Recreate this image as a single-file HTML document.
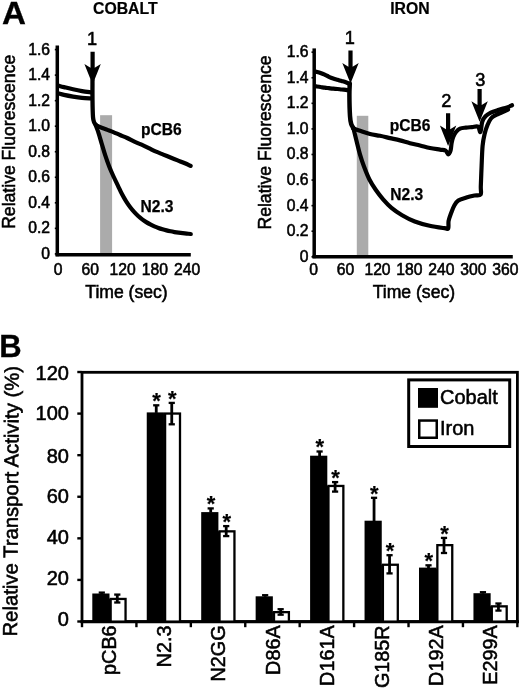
<!DOCTYPE html>
<html><head><meta charset="utf-8"><style>
html,body{margin:0;padding:0;background:#fff;}
svg{display:block;font-family:"Liberation Sans", sans-serif;will-change:transform;}
</style></head><body>
<svg width="520" height="689" viewBox="0 0 520 689" font-family='"Liberation Sans", sans-serif' fill="#000">
<rect width="520" height="689" fill="#fff"/>
<text x="0.00" y="0.00" font-size="31" text-anchor="start" font-weight="bold" stroke="#000" stroke-width="0.3" transform="translate(1.90,24.00) scale(1.07,1)">A</text>
<text x="93.00" y="13.70" font-size="15.8" text-anchor="start" font-weight="bold" stroke="#000" stroke-width="0.2">COBALT</text>
<text x="0.00" y="0.00" font-size="17.6" text-anchor="middle" stroke="#000" stroke-width="0.55" transform="translate(14.70,141.80) rotate(-90)">Relative Fluorescence</text>
<text x="50.10" y="259.00" font-size="15.7" text-anchor="end" stroke="#000" stroke-width="0.55">0</text>
<line x1="54.80" y1="253.90" x2="57.30" y2="253.90" stroke="#000" stroke-width="1.6"/>
<text x="50.10" y="233.46" font-size="15.7" text-anchor="end" stroke="#000" stroke-width="0.55">0.2</text>
<line x1="54.80" y1="228.36" x2="57.30" y2="228.36" stroke="#000" stroke-width="1.6"/>
<text x="50.10" y="207.92" font-size="15.7" text-anchor="end" stroke="#000" stroke-width="0.55">0.4</text>
<line x1="54.80" y1="202.82" x2="57.30" y2="202.82" stroke="#000" stroke-width="1.6"/>
<text x="50.10" y="182.38" font-size="15.7" text-anchor="end" stroke="#000" stroke-width="0.55">0.6</text>
<line x1="54.80" y1="177.28" x2="57.30" y2="177.28" stroke="#000" stroke-width="1.6"/>
<text x="50.10" y="156.84" font-size="15.7" text-anchor="end" stroke="#000" stroke-width="0.55">0.8</text>
<line x1="54.80" y1="151.74" x2="57.30" y2="151.74" stroke="#000" stroke-width="1.6"/>
<text x="50.10" y="131.30" font-size="15.7" text-anchor="end" stroke="#000" stroke-width="0.55">1.0</text>
<line x1="54.80" y1="126.20" x2="57.30" y2="126.20" stroke="#000" stroke-width="1.6"/>
<text x="50.10" y="105.76" font-size="15.7" text-anchor="end" stroke="#000" stroke-width="0.55">1.2</text>
<line x1="54.80" y1="100.66" x2="57.30" y2="100.66" stroke="#000" stroke-width="1.6"/>
<text x="50.10" y="80.22" font-size="15.7" text-anchor="end" stroke="#000" stroke-width="0.55">1.4</text>
<line x1="54.80" y1="75.12" x2="57.30" y2="75.12" stroke="#000" stroke-width="1.6"/>
<text x="50.10" y="54.68" font-size="15.7" text-anchor="end" stroke="#000" stroke-width="0.55">1.6</text>
<line x1="54.80" y1="49.58" x2="57.30" y2="49.58" stroke="#000" stroke-width="1.6"/>
<rect x="100.10" y="115.20" width="12.00" height="139.30" fill="#ababab"/>
<line x1="57.30" y1="45.60" x2="57.30" y2="256.20" stroke="#000" stroke-width="3.5"/>
<line x1="55.60" y1="254.70" x2="190.80" y2="254.70" stroke="#000" stroke-width="3.4"/>
<text x="58.00" y="274.90" font-size="15.7" text-anchor="middle" stroke="#000" stroke-width="0.55">0</text>
<text x="90.30" y="274.90" font-size="15.7" text-anchor="middle" stroke="#000" stroke-width="0.55">60</text>
<text x="122.60" y="274.90" font-size="15.7" text-anchor="middle" stroke="#000" stroke-width="0.55">120</text>
<text x="154.90" y="274.90" font-size="15.7" text-anchor="middle" stroke="#000" stroke-width="0.55">180</text>
<text x="187.20" y="274.90" font-size="15.7" text-anchor="middle" stroke="#000" stroke-width="0.55">240</text>
<text x="126.50" y="298.00" font-size="17.6" text-anchor="middle" stroke="#000" stroke-width="0.55">Time (sec)</text>
<path d="M59.00 85.80 C59.83 86.02 61.67 86.52 64.00 87.10 C66.33 87.68 70.00 88.63 73.00 89.30 C76.00 89.97 78.92 90.58 82.00 91.10 C85.08 91.62 89.92 92.18 91.50 92.40" fill="none" stroke="#000" stroke-width="4.2" stroke-linejoin="round" stroke-linecap="round"/>
<path d="M59.00 93.60 C59.83 93.82 61.67 94.40 64.00 94.90 C66.33 95.40 70.00 96.10 73.00 96.60 C76.00 97.10 78.92 97.58 82.00 97.90 C85.08 98.22 89.92 98.40 91.50 98.50" fill="none" stroke="#000" stroke-width="4.2" stroke-linejoin="round" stroke-linecap="round"/>
<path d="M92.50 80.00 C92.50 83.33 92.42 93.83 92.50 100.00 C92.58 106.17 92.72 113.25 93.00 117.00 C93.28 120.75 93.62 121.08 94.20 122.50 C94.78 123.92 96.12 125.00 96.50 125.50" fill="none" stroke="#000" stroke-width="4.3" stroke-linejoin="round" stroke-linecap="round"/>
<path d="M96.00 125.30 C96.93 125.72 99.70 127.03 101.60 127.80 C103.50 128.57 105.45 129.18 107.40 129.90 C109.35 130.62 111.20 131.25 113.30 132.10 C115.40 132.95 117.68 134.02 120.00 135.00 C122.32 135.98 124.80 136.90 127.20 138.00 C129.60 139.10 132.00 140.48 134.40 141.60 C136.80 142.72 139.20 143.62 141.60 144.70 C144.00 145.78 146.38 146.93 148.80 148.10 C151.22 149.27 153.68 150.62 156.10 151.70 C158.52 152.78 160.90 153.63 163.30 154.60 C165.70 155.57 168.10 156.53 170.50 157.50 C172.90 158.47 175.30 159.43 177.70 160.40 C180.10 161.37 182.73 162.38 184.90 163.30 C187.07 164.22 189.73 165.47 190.70 165.90" fill="none" stroke="#000" stroke-width="4.2" stroke-linejoin="round" stroke-linecap="round"/>
<path d="M95.50 124.80 C95.93 125.93 97.08 128.52 98.10 131.60 C99.12 134.68 100.43 139.42 101.60 143.30 C102.77 147.18 103.83 151.03 105.10 154.90 C106.37 158.77 107.83 162.98 109.20 166.50 C110.57 170.02 111.85 172.83 113.30 176.00 C114.75 179.17 116.46 182.53 117.90 185.54 C119.34 188.55 120.60 191.47 121.95 194.08 C123.30 196.68 124.65 199.00 126.00 201.16 C127.35 203.32 128.70 205.25 130.05 207.04 C131.40 208.84 132.75 210.44 134.10 211.93 C135.45 213.41 136.80 214.74 138.15 215.98 C139.50 217.21 140.85 218.31 142.20 219.34 C143.55 220.36 144.90 221.28 146.25 222.13 C147.60 222.98 148.95 223.74 150.30 224.45 C151.65 225.15 153.00 225.78 154.35 226.37 C155.70 226.95 157.05 227.48 158.40 227.96 C159.75 228.45 161.10 228.88 162.45 229.29 C163.80 229.69 165.15 230.05 166.50 230.39 C167.85 230.72 169.20 231.02 170.55 231.30 C171.90 231.58 173.25 231.82 174.60 232.06 C175.95 232.29 177.30 232.49 178.65 232.68 C180.00 232.88 181.35 233.05 182.70 233.20 C184.05 233.36 185.40 233.51 186.75 233.64 C188.10 233.77 190.12 233.94 190.80 234.00" fill="none" stroke="#000" stroke-width="4.2" stroke-linejoin="round" stroke-linecap="round"/>
<text x="141.00" y="134.60" font-size="15.6" text-anchor="start" font-weight="bold" stroke="#000" stroke-width="0.25">pCB6</text>
<text x="140.60" y="212.00" font-size="15.6" text-anchor="start" font-weight="bold" stroke="#000" stroke-width="0.25">N2.3</text>
<path d="M90.50 51.70 L94.70 51.70 L94.70 67.80 L100.80 64.00 L92.60 84.60 L84.40 64.00 L90.50 67.80 Z" fill="#000"/>
<text x="92.00" y="45.00" font-size="18.2" text-anchor="middle" stroke="#000" stroke-width="0.55">1</text>
<text x="390.20" y="13.60" font-size="15.8" text-anchor="start" font-weight="bold" stroke="#000" stroke-width="0.2">IRON</text>
<text x="0.00" y="0.00" font-size="17.6" text-anchor="middle" stroke="#000" stroke-width="0.55" transform="translate(271.30,142.50) rotate(-90)">Relative Fluorescence</text>
<text x="308.60" y="261.80" font-size="15.7" text-anchor="end" stroke="#000" stroke-width="0.55">0</text>
<line x1="311.50" y1="256.80" x2="314.00" y2="256.80" stroke="#000" stroke-width="1.6"/>
<text x="308.60" y="236.22" font-size="15.7" text-anchor="end" stroke="#000" stroke-width="0.55">0.2</text>
<line x1="311.50" y1="231.22" x2="314.00" y2="231.22" stroke="#000" stroke-width="1.6"/>
<text x="308.60" y="210.64" font-size="15.7" text-anchor="end" stroke="#000" stroke-width="0.55">0.4</text>
<line x1="311.50" y1="205.64" x2="314.00" y2="205.64" stroke="#000" stroke-width="1.6"/>
<text x="308.60" y="185.06" font-size="15.7" text-anchor="end" stroke="#000" stroke-width="0.55">0.6</text>
<line x1="311.50" y1="180.06" x2="314.00" y2="180.06" stroke="#000" stroke-width="1.6"/>
<text x="308.60" y="159.48" font-size="15.7" text-anchor="end" stroke="#000" stroke-width="0.55">0.8</text>
<line x1="311.50" y1="154.48" x2="314.00" y2="154.48" stroke="#000" stroke-width="1.6"/>
<text x="308.60" y="133.90" font-size="15.7" text-anchor="end" stroke="#000" stroke-width="0.55">1.0</text>
<line x1="311.50" y1="128.90" x2="314.00" y2="128.90" stroke="#000" stroke-width="1.6"/>
<text x="308.60" y="108.32" font-size="15.7" text-anchor="end" stroke="#000" stroke-width="0.55">1.2</text>
<line x1="311.50" y1="103.32" x2="314.00" y2="103.32" stroke="#000" stroke-width="1.6"/>
<text x="308.60" y="82.74" font-size="15.7" text-anchor="end" stroke="#000" stroke-width="0.55">1.4</text>
<line x1="311.50" y1="77.74" x2="314.00" y2="77.74" stroke="#000" stroke-width="1.6"/>
<text x="308.60" y="57.16" font-size="15.7" text-anchor="end" stroke="#000" stroke-width="0.55">1.6</text>
<line x1="311.50" y1="52.16" x2="314.00" y2="52.16" stroke="#000" stroke-width="1.6"/>
<rect x="356.80" y="115.80" width="11.50" height="140.80" fill="#ababab"/>
<line x1="314.20" y1="48.40" x2="314.20" y2="258.20" stroke="#000" stroke-width="3.5"/>
<line x1="312.50" y1="256.70" x2="512.80" y2="256.70" stroke="#000" stroke-width="3.4"/>
<text x="313.60" y="275.00" font-size="15.7" text-anchor="middle" stroke="#000" stroke-width="0.55">0</text>
<text x="345.55" y="275.00" font-size="15.7" text-anchor="middle" stroke="#000" stroke-width="0.55">60</text>
<text x="377.50" y="275.00" font-size="15.7" text-anchor="middle" stroke="#000" stroke-width="0.55">120</text>
<text x="409.45" y="275.00" font-size="15.7" text-anchor="middle" stroke="#000" stroke-width="0.55">180</text>
<text x="441.40" y="275.00" font-size="15.7" text-anchor="middle" stroke="#000" stroke-width="0.55">240</text>
<text x="473.35" y="275.00" font-size="15.7" text-anchor="middle" stroke="#000" stroke-width="0.55">300</text>
<text x="505.30" y="275.00" font-size="15.7" text-anchor="middle" stroke="#000" stroke-width="0.55">360</text>
<text x="413.90" y="298.00" font-size="17.6" text-anchor="middle" stroke="#000" stroke-width="0.55">Time (sec)</text>
<path d="M316.20 71.70 C316.92 71.92 319.08 72.50 320.50 73.00 C321.92 73.50 323.30 74.07 324.70 74.70 C326.10 75.33 327.48 76.17 328.90 76.80 C330.32 77.43 331.78 78.00 333.20 78.50 C334.62 79.00 336.00 79.38 337.40 79.80 C338.80 80.22 340.20 80.58 341.60 81.00 C343.00 81.42 344.48 81.80 345.80 82.30 C347.12 82.80 348.88 83.72 349.50 84.00" fill="none" stroke="#000" stroke-width="4.2" stroke-linejoin="round" stroke-linecap="round"/>
<path d="M316.20 86.40 C316.92 86.50 319.08 86.78 320.50 87.00 C321.92 87.22 323.30 87.50 324.70 87.70 C326.10 87.90 327.48 88.03 328.90 88.20 C330.32 88.37 331.78 88.57 333.20 88.70 C334.62 88.83 336.00 88.87 337.40 89.00 C338.80 89.13 340.20 89.35 341.60 89.50 C343.00 89.65 344.63 89.77 345.80 89.90 C346.97 90.03 348.13 90.23 348.60 90.30" fill="none" stroke="#000" stroke-width="4.2" stroke-linejoin="round" stroke-linecap="round"/>
<path d="M349.80 83.50 C349.73 85.42 349.37 89.58 349.40 95.00 C349.43 100.42 349.70 111.17 350.00 116.00 C350.30 120.83 350.53 121.87 351.20 124.00 C351.87 126.13 353.53 128.00 354.00 128.80" fill="none" stroke="#000" stroke-width="4.5" stroke-linejoin="round" stroke-linecap="round"/>
<path d="M353.00 128.30 C354.17 128.72 357.17 129.85 360.00 130.80 C362.83 131.75 366.67 133.17 370.00 134.00 C373.33 134.83 376.67 135.12 380.00 135.80 C383.33 136.48 386.67 137.33 390.00 138.10 C393.33 138.87 396.67 139.55 400.00 140.40 C403.33 141.25 406.67 142.35 410.00 143.20 C413.33 144.05 416.67 144.70 420.00 145.50 C423.33 146.30 426.67 147.32 430.00 148.00 C433.33 148.68 437.42 149.18 440.00 149.60 C442.58 150.02 444.12 149.72 445.50 150.50 C446.88 151.28 447.45 154.30 448.30 154.30 C449.15 154.30 450.05 152.38 450.60 150.50 C451.15 148.62 451.17 145.25 451.60 143.00 C452.03 140.75 452.47 138.83 453.20 137.00 C453.93 135.17 454.87 133.38 456.00 132.00 C457.13 130.62 458.33 129.43 460.00 128.70 C461.67 127.97 464.00 127.87 466.00 127.60 C468.00 127.33 470.00 127.27 472.00 127.10 C474.00 126.93 476.60 125.78 478.00 126.60 C479.40 127.42 479.68 132.85 480.40 132.00 C481.12 131.15 481.45 124.12 482.30 121.50 C483.15 118.88 484.08 117.78 485.50 116.30 C486.92 114.82 488.57 113.68 490.80 112.60 C493.03 111.52 496.20 110.67 498.90 109.80 C501.60 108.93 504.82 108.15 507.00 107.40 C509.18 106.65 511.17 105.65 512.00 105.30" fill="none" stroke="#000" stroke-width="4.2" stroke-linejoin="round" stroke-linecap="round"/>
<path d="M353.50 128.50 C354.02 130.62 355.55 136.98 356.60 141.20 C357.65 145.42 358.57 149.58 359.80 153.80 C361.03 158.02 362.42 162.27 364.00 166.50 C365.58 170.73 367.35 175.32 369.30 179.20 C371.25 183.08 373.40 186.45 375.70 189.80 C378.00 193.15 380.47 196.30 383.10 199.30 C385.73 202.30 388.33 205.15 391.50 207.80 C394.67 210.45 398.22 212.92 402.10 215.20 C405.98 217.48 410.22 219.73 414.80 221.50 C419.38 223.27 424.67 224.68 429.60 225.80 C434.53 226.92 441.30 227.77 444.40 228.20 C447.50 228.63 447.50 229.62 448.20 228.40 C448.90 227.18 448.10 223.50 448.60 220.90 C449.10 218.30 450.27 215.33 451.20 212.80 C452.13 210.27 453.02 207.73 454.20 205.70 C455.38 203.67 456.27 201.97 458.30 200.60 C460.33 199.23 463.70 198.35 466.40 197.50 C469.10 196.65 472.13 196.00 474.50 195.50 C476.87 195.00 479.55 196.02 480.60 194.50 C481.65 192.98 480.63 191.15 480.80 186.40 C480.97 181.65 481.30 172.77 481.60 166.00 C481.90 159.23 482.10 151.13 482.60 145.80 C483.10 140.47 483.78 137.47 484.60 134.00 C485.42 130.53 486.43 127.58 487.50 125.00 C488.57 122.42 489.58 120.17 491.00 118.50 C492.42 116.83 494.17 116.03 496.00 115.00 C497.83 113.97 500.00 113.22 502.00 112.30 C504.00 111.38 507.00 109.97 508.00 109.50" fill="none" stroke="#000" stroke-width="4.2" stroke-linejoin="round" stroke-linecap="round"/>
<text x="389.70" y="130.80" font-size="15.6" text-anchor="start" font-weight="bold" stroke="#000" stroke-width="0.25">pCB6</text>
<text x="390.30" y="200.10" font-size="15.6" text-anchor="start" font-weight="bold" stroke="#000" stroke-width="0.25">N2.3</text>
<path d="M348.40 50.60 L352.60 50.60 L352.60 66.70 L358.70 62.90 L350.50 83.50 L342.30 62.90 L348.40 66.70 Z" fill="#000"/>
<text x="349.80" y="44.20" font-size="18.2" text-anchor="middle" stroke="#000" stroke-width="0.55">1</text>
<path d="M446.00 113.20 L450.20 113.20 L450.20 129.30 L456.30 125.50 L448.10 146.10 L439.90 125.50 L446.00 129.30 Z" fill="#000"/>
<text x="446.20" y="107.00" font-size="18.2" text-anchor="middle" stroke="#000" stroke-width="0.55">2</text>
<path d="M477.50 88.90 L481.70 88.90 L481.70 105.00 L487.80 101.20 L479.60 121.80 L471.40 101.20 L477.50 105.00 Z" fill="#000"/>
<text x="480.20" y="86.10" font-size="18.2" text-anchor="middle" stroke="#000" stroke-width="0.55">3</text>
<text x="-0.70" y="356.60" font-size="31" text-anchor="start" font-weight="bold" stroke="#000" stroke-width="0.3">B</text>
<text x="0.00" y="0.00" font-size="20.3" text-anchor="middle" stroke="#000" stroke-width="0.55" transform="translate(18.00,501.30) rotate(-89.6)">Relative Transport Activity (%)</text>
<text x="68.90" y="626.00" font-size="20" text-anchor="end" stroke="#000" stroke-width="0.55">0</text>
<line x1="77.30" y1="621.50" x2="81.50" y2="621.50" stroke="#000" stroke-width="2.4"/>
<text x="68.90" y="585.10" font-size="20" text-anchor="end" stroke="#000" stroke-width="0.55">20</text>
<line x1="77.30" y1="579.92" x2="81.50" y2="579.92" stroke="#000" stroke-width="2.4"/>
<text x="68.90" y="544.10" font-size="20" text-anchor="end" stroke="#000" stroke-width="0.55">40</text>
<line x1="77.30" y1="538.34" x2="81.50" y2="538.34" stroke="#000" stroke-width="2.4"/>
<text x="68.90" y="503.40" font-size="20" text-anchor="end" stroke="#000" stroke-width="0.55">60</text>
<line x1="77.30" y1="496.76" x2="81.50" y2="496.76" stroke="#000" stroke-width="2.4"/>
<text x="68.90" y="462.70" font-size="20" text-anchor="end" stroke="#000" stroke-width="0.55">80</text>
<line x1="77.30" y1="455.18" x2="81.50" y2="455.18" stroke="#000" stroke-width="2.4"/>
<text x="68.90" y="420.20" font-size="20" text-anchor="end" stroke="#000" stroke-width="0.55">100</text>
<line x1="77.30" y1="413.60" x2="81.50" y2="413.60" stroke="#000" stroke-width="2.4"/>
<text x="68.90" y="379.50" font-size="20" text-anchor="end" stroke="#000" stroke-width="0.55">120</text>
<line x1="77.30" y1="372.02" x2="81.50" y2="372.02" stroke="#000" stroke-width="2.4"/>
<rect x="82" y="372.3" width="435.4" height="249.3" fill="none" stroke="#000" stroke-width="2.8"/>
<line x1="80.50" y1="621.70" x2="519.00" y2="621.70" stroke="#000" stroke-width="3.0"/>
<rect x="92.30" y="593.50" width="17.20" height="28.10" fill="#000"/>
<rect x="108.90" y="598.80" width="1.60" height="22.80" fill="#000"/>
<rect x="110.65" y="598.95" width="14.90" height="22.65" fill="#fff" stroke="#000" stroke-width="2.3"/>
<line x1="101.80" y1="592.50" x2="101.80" y2="594.00" stroke="#000" stroke-width="2.8"/>
<line x1="98.70" y1="592.60" x2="104.90" y2="592.60" stroke="#000" stroke-width="2.3"/>
<line x1="117.30" y1="594.50" x2="117.30" y2="602.60" stroke="#000" stroke-width="2.8"/>
<line x1="114.20" y1="594.60" x2="120.40" y2="594.60" stroke="#000" stroke-width="2.3"/>
<line x1="114.20" y1="602.50" x2="120.40" y2="602.50" stroke="#000" stroke-width="2.3"/>
<text x="0.00" y="0.00" font-size="19.8" text-anchor="end" stroke="#000" stroke-width="0.55" transform="translate(116.30,625.40) rotate(-90)">pCB6</text>
<rect x="146.75" y="412.40" width="17.20" height="209.20" fill="#000"/>
<rect x="163.35" y="413.40" width="1.60" height="208.20" fill="#000"/>
<rect x="165.10" y="413.55" width="14.90" height="208.05" fill="#fff" stroke="#000" stroke-width="2.3"/>
<line x1="156.25" y1="405.20" x2="156.25" y2="412.90" stroke="#000" stroke-width="2.8"/>
<line x1="153.15" y1="405.30" x2="159.35" y2="405.30" stroke="#000" stroke-width="2.3"/>
<line x1="171.75" y1="402.80" x2="171.75" y2="424.40" stroke="#000" stroke-width="2.8"/>
<line x1="168.65" y1="402.90" x2="174.85" y2="402.90" stroke="#000" stroke-width="2.3"/>
<line x1="168.65" y1="424.30" x2="174.85" y2="424.30" stroke="#000" stroke-width="2.3"/>
<text x="156.55" y="408.00" font-size="22" text-anchor="middle" font-weight="bold" stroke="#000" stroke-width="0.2">*</text>
<text x="172.25" y="405.60" font-size="22" text-anchor="middle" font-weight="bold" stroke="#000" stroke-width="0.2">*</text>
<text x="0.00" y="0.00" font-size="19.8" text-anchor="end" stroke="#000" stroke-width="0.55" transform="translate(170.75,625.40) rotate(-90)">N2.3</text>
<rect x="201.20" y="512.10" width="17.20" height="109.50" fill="#000"/>
<rect x="217.80" y="531.20" width="1.60" height="90.40" fill="#000"/>
<rect x="219.55" y="531.35" width="14.90" height="90.25" fill="#fff" stroke="#000" stroke-width="2.3"/>
<line x1="210.70" y1="508.30" x2="210.70" y2="512.60" stroke="#000" stroke-width="2.8"/>
<line x1="207.60" y1="508.40" x2="213.80" y2="508.40" stroke="#000" stroke-width="2.3"/>
<line x1="226.20" y1="526.00" x2="226.20" y2="536.20" stroke="#000" stroke-width="2.8"/>
<line x1="223.10" y1="526.10" x2="229.30" y2="526.10" stroke="#000" stroke-width="2.3"/>
<line x1="223.10" y1="536.10" x2="229.30" y2="536.10" stroke="#000" stroke-width="2.3"/>
<text x="211.00" y="511.10" font-size="22" text-anchor="middle" font-weight="bold" stroke="#000" stroke-width="0.2">*</text>
<text x="226.70" y="528.80" font-size="22" text-anchor="middle" font-weight="bold" stroke="#000" stroke-width="0.2">*</text>
<text x="0.00" y="0.00" font-size="19.8" text-anchor="end" stroke="#000" stroke-width="0.55" transform="translate(225.20,625.40) rotate(-90)">N2GG</text>
<rect x="255.65" y="596.30" width="17.20" height="25.30" fill="#000"/>
<rect x="272.25" y="612.00" width="1.60" height="9.60" fill="#000"/>
<rect x="274.00" y="612.15" width="14.90" height="9.45" fill="#fff" stroke="#000" stroke-width="2.3"/>
<line x1="265.15" y1="595.10" x2="265.15" y2="596.80" stroke="#000" stroke-width="2.8"/>
<line x1="262.05" y1="595.20" x2="268.25" y2="595.20" stroke="#000" stroke-width="2.3"/>
<line x1="280.65" y1="609.10" x2="280.65" y2="614.80" stroke="#000" stroke-width="2.8"/>
<line x1="277.55" y1="609.20" x2="283.75" y2="609.20" stroke="#000" stroke-width="2.3"/>
<line x1="277.55" y1="614.70" x2="283.75" y2="614.70" stroke="#000" stroke-width="2.3"/>
<text x="0.00" y="0.00" font-size="19.8" text-anchor="end" stroke="#000" stroke-width="0.55" transform="translate(279.65,625.40) rotate(-90)">D86A</text>
<rect x="310.10" y="455.70" width="17.20" height="165.90" fill="#000"/>
<rect x="326.70" y="485.80" width="1.60" height="135.80" fill="#000"/>
<rect x="328.45" y="485.95" width="14.90" height="135.65" fill="#fff" stroke="#000" stroke-width="2.3"/>
<line x1="319.60" y1="451.40" x2="319.60" y2="456.20" stroke="#000" stroke-width="2.8"/>
<line x1="316.50" y1="451.50" x2="322.70" y2="451.50" stroke="#000" stroke-width="2.3"/>
<line x1="335.10" y1="482.00" x2="335.10" y2="491.70" stroke="#000" stroke-width="2.8"/>
<line x1="332.00" y1="482.10" x2="338.20" y2="482.10" stroke="#000" stroke-width="2.3"/>
<line x1="332.00" y1="491.60" x2="338.20" y2="491.60" stroke="#000" stroke-width="2.3"/>
<text x="319.90" y="454.20" font-size="22" text-anchor="middle" font-weight="bold" stroke="#000" stroke-width="0.2">*</text>
<text x="335.60" y="484.80" font-size="22" text-anchor="middle" font-weight="bold" stroke="#000" stroke-width="0.2">*</text>
<text x="0.00" y="0.00" font-size="19.8" text-anchor="end" stroke="#000" stroke-width="0.55" transform="translate(334.10,625.40) rotate(-90)">D161A</text>
<rect x="364.55" y="520.70" width="17.20" height="100.90" fill="#000"/>
<rect x="381.15" y="564.60" width="1.60" height="57.00" fill="#000"/>
<rect x="382.90" y="564.75" width="14.90" height="56.85" fill="#fff" stroke="#000" stroke-width="2.3"/>
<line x1="374.05" y1="497.70" x2="374.05" y2="521.20" stroke="#000" stroke-width="2.8"/>
<line x1="370.95" y1="497.80" x2="377.15" y2="497.80" stroke="#000" stroke-width="2.3"/>
<line x1="389.55" y1="555.10" x2="389.55" y2="573.50" stroke="#000" stroke-width="2.8"/>
<line x1="386.45" y1="555.20" x2="392.65" y2="555.20" stroke="#000" stroke-width="2.3"/>
<line x1="386.45" y1="573.40" x2="392.65" y2="573.40" stroke="#000" stroke-width="2.3"/>
<text x="374.35" y="500.50" font-size="22" text-anchor="middle" font-weight="bold" stroke="#000" stroke-width="0.2">*</text>
<text x="390.05" y="557.90" font-size="22" text-anchor="middle" font-weight="bold" stroke="#000" stroke-width="0.2">*</text>
<text x="0.00" y="0.00" font-size="19.8" text-anchor="end" stroke="#000" stroke-width="0.55" transform="translate(388.55,625.40) rotate(-90)">G185R</text>
<rect x="419.00" y="567.60" width="17.20" height="54.00" fill="#000"/>
<rect x="435.60" y="568.60" width="1.60" height="53.00" fill="#000"/>
<rect x="437.35" y="545.15" width="14.90" height="76.45" fill="#fff" stroke="#000" stroke-width="2.3"/>
<line x1="428.50" y1="565.20" x2="428.50" y2="568.10" stroke="#000" stroke-width="2.8"/>
<line x1="425.40" y1="565.30" x2="431.60" y2="565.30" stroke="#000" stroke-width="2.3"/>
<line x1="444.00" y1="537.80" x2="444.00" y2="553.10" stroke="#000" stroke-width="2.8"/>
<line x1="440.90" y1="537.90" x2="447.10" y2="537.90" stroke="#000" stroke-width="2.3"/>
<line x1="440.90" y1="553.00" x2="447.10" y2="553.00" stroke="#000" stroke-width="2.3"/>
<text x="428.80" y="568.00" font-size="22" text-anchor="middle" font-weight="bold" stroke="#000" stroke-width="0.2">*</text>
<text x="444.50" y="540.60" font-size="22" text-anchor="middle" font-weight="bold" stroke="#000" stroke-width="0.2">*</text>
<text x="0.00" y="0.00" font-size="19.8" text-anchor="end" stroke="#000" stroke-width="0.55" transform="translate(443.00,625.40) rotate(-90)">D192A</text>
<rect x="473.45" y="593.20" width="17.20" height="28.40" fill="#000"/>
<rect x="490.05" y="606.20" width="1.60" height="15.40" fill="#000"/>
<rect x="491.80" y="606.35" width="14.90" height="15.25" fill="#fff" stroke="#000" stroke-width="2.3"/>
<line x1="482.95" y1="592.10" x2="482.95" y2="593.70" stroke="#000" stroke-width="2.8"/>
<line x1="479.85" y1="592.20" x2="486.05" y2="592.20" stroke="#000" stroke-width="2.3"/>
<line x1="498.45" y1="603.40" x2="498.45" y2="610.70" stroke="#000" stroke-width="2.8"/>
<line x1="495.35" y1="603.50" x2="501.55" y2="603.50" stroke="#000" stroke-width="2.3"/>
<line x1="495.35" y1="610.60" x2="501.55" y2="610.60" stroke="#000" stroke-width="2.3"/>
<text x="0.00" y="0.00" font-size="19.8" text-anchor="end" stroke="#000" stroke-width="0.55" transform="translate(497.45,625.40) rotate(-90)">E299A</text>
<line x1="82.00" y1="621.00" x2="82.00" y2="627.20" stroke="#000" stroke-width="2.4"/>
<line x1="136.42" y1="621.00" x2="136.42" y2="627.20" stroke="#000" stroke-width="2.4"/>
<line x1="190.84" y1="621.00" x2="190.84" y2="627.20" stroke="#000" stroke-width="2.4"/>
<line x1="245.26" y1="621.00" x2="245.26" y2="627.20" stroke="#000" stroke-width="2.4"/>
<line x1="299.68" y1="621.00" x2="299.68" y2="627.20" stroke="#000" stroke-width="2.4"/>
<line x1="354.10" y1="621.00" x2="354.10" y2="627.20" stroke="#000" stroke-width="2.4"/>
<line x1="408.52" y1="621.00" x2="408.52" y2="627.20" stroke="#000" stroke-width="2.4"/>
<line x1="462.94" y1="621.00" x2="462.94" y2="627.20" stroke="#000" stroke-width="2.4"/>
<line x1="517.36" y1="621.00" x2="517.36" y2="627.20" stroke="#000" stroke-width="2.4"/>
<rect x="408.7" y="379.9" width="101" height="66.6" fill="#fff" stroke="#000" stroke-width="3"/>
<rect x="418.00" y="388.00" width="20.00" height="19.80" fill="#000"/>
<rect x="419.25" y="420.55" width="17.5" height="17.2" fill="#fff" stroke="#000" stroke-width="2.5"/>
<text x="440.00" y="403.80" font-size="20" text-anchor="start" stroke="#000" stroke-width="0.55">Cobalt</text>
<text x="440.00" y="434.60" font-size="20" text-anchor="start" stroke="#000" stroke-width="0.55">Iron</text>
</svg>
</body></html>
